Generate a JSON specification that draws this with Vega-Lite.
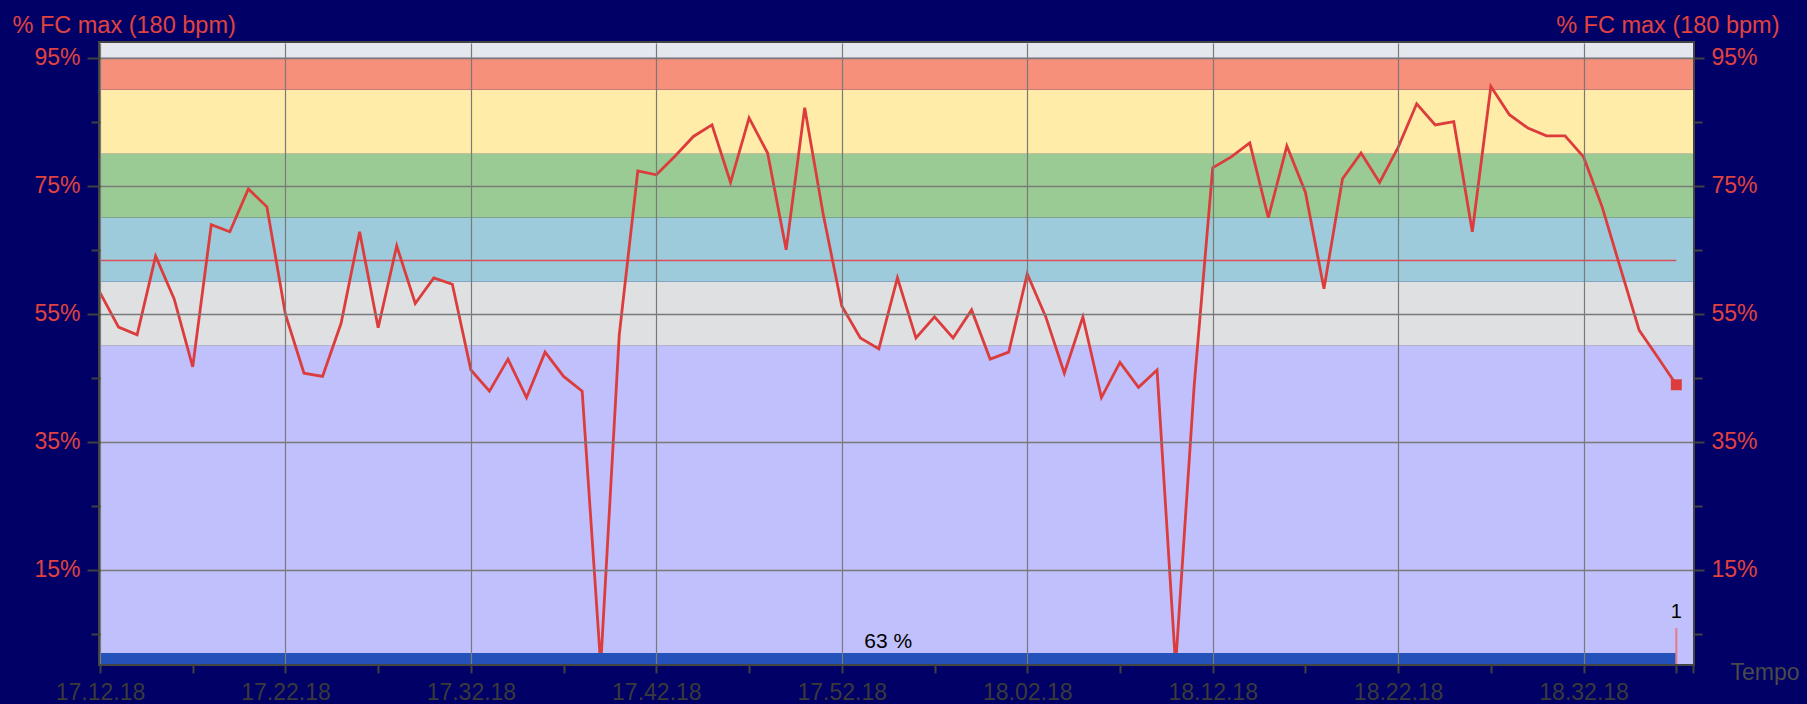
{
  "$schema": "https://vega.github.io/schema/vega-lite/v6.json",
  "width": 1593,
  "height": 621,
  "autosize": {"type": "none"},
  "padding": {"left": 100, "top": 43, "right": 114, "bottom": 40},
  "background": "#000066",
  "config": {
    "font": "Liberation Sans",
    "view": {"stroke": "#454545", "strokeWidth": 4}
  },
  "datasets": {
    "fc": [
      {"minuto": 0, "fc": 58.3}, {"minuto": 1, "fc": 52.9}, {"minuto": 2, "fc": 51.7}, {"minuto": 3, "fc": 64.0},
      {"minuto": 4, "fc": 57.3}, {"minuto": 5, "fc": 46.7}, {"minuto": 6, "fc": 68.9}, {"minuto": 7, "fc": 67.8},
      {"minuto": 8, "fc": 74.5}, {"minuto": 9, "fc": 71.7}, {"minuto": 10, "fc": 54.9}, {"minuto": 11, "fc": 45.7},
      {"minuto": 12, "fc": 45.2}, {"minuto": 13, "fc": 53.5}, {"minuto": 14, "fc": 67.8}, {"minuto": 15, "fc": 52.8},
      {"minuto": 16, "fc": 65.6}, {"minuto": 17, "fc": 56.6}, {"minuto": 18, "fc": 60.6}, {"minuto": 19, "fc": 59.6},
      {"minuto": 20, "fc": 46.2}, {"minuto": 21, "fc": 42.9}, {"minuto": 22, "fc": 47.9}, {"minuto": 23, "fc": 41.9},
      {"minuto": 24, "fc": 49.0}, {"minuto": 25, "fc": 45.2}, {"minuto": 26, "fc": 42.9}, {"minuto": 27, "fc": 0},
      {"minuto": 28, "fc": 51.7}, {"minuto": 29, "fc": 77.3}, {"minuto": 30, "fc": 76.7}, {"minuto": 31, "fc": 79.6},
      {"minuto": 32, "fc": 82.7}, {"minuto": 33, "fc": 84.5}, {"minuto": 34, "fc": 75.5}, {"minuto": 35, "fc": 85.6},
      {"minuto": 36, "fc": 80.1}, {"minuto": 37, "fc": 65.0}, {"minuto": 38, "fc": 87.2}, {"minuto": 39, "fc": 70.5},
      {"minuto": 40, "fc": 56.2}, {"minuto": 41, "fc": 51.2}, {"minuto": 42, "fc": 49.5}, {"minuto": 43, "fc": 60.6},
      {"minuto": 44, "fc": 51.2}, {"minuto": 45, "fc": 54.5}, {"minuto": 46, "fc": 51.2}, {"minuto": 47, "fc": 55.6},
      {"minuto": 48, "fc": 47.9}, {"minuto": 49, "fc": 49.0}, {"minuto": 50, "fc": 61.2}, {"minuto": 51, "fc": 54.5},
      {"minuto": 52, "fc": 45.7}, {"minuto": 53, "fc": 54.5}, {"minuto": 54, "fc": 41.9}, {"minuto": 55, "fc": 47.4},
      {"minuto": 56, "fc": 43.5}, {"minuto": 57, "fc": 46.2}, {"minuto": 58, "fc": 0}, {"minuto": 59, "fc": 43.7},
      {"minuto": 60, "fc": 77.8}, {"minuto": 61, "fc": 79.5}, {"minuto": 62, "fc": 81.7}, {"minuto": 63, "fc": 70.0},
      {"minuto": 64, "fc": 81.2}, {"minuto": 65, "fc": 74.0}, {"minuto": 66, "fc": 58.9}, {"minuto": 67, "fc": 76.1},
      {"minuto": 68, "fc": 80.1}, {"minuto": 69, "fc": 75.5}, {"minuto": 70, "fc": 81.0}, {"minuto": 71, "fc": 87.8},
      {"minuto": 72, "fc": 84.5}, {"minuto": 73, "fc": 85.0}, {"minuto": 74, "fc": 67.8}, {"minuto": 75, "fc": 90.5},
      {"minuto": 76, "fc": 86.1}, {"minuto": 77, "fc": 84.0}, {"minuto": 78, "fc": 82.8}, {"minuto": 79, "fc": 82.8},
      {"minuto": 80, "fc": 79.5}, {"minuto": 81, "fc": 71.7}, {"minuto": 82, "fc": 62.0}, {"minuto": 83, "fc": 52.4},
      {"minuto": 84, "fc": 48.2}, {"minuto": 85, "fc": 43.9}
    ],
    "zonas": [
      {"zona": "Z0", "lo": 0, "hi": 50},
      {"zona": "Z1", "lo": 50, "hi": 60},
      {"zona": "Z2", "lo": 60, "hi": 70},
      {"zona": "Z3", "lo": 70, "hi": 80},
      {"zona": "Z4", "lo": 80, "hi": 90},
      {"zona": "Z5", "lo": 90, "hi": 95},
      {"zona": "Z6", "lo": 95, "hi": 100}
    ],
    "voltas": [{"minuto": 85, "volta": "1"}]
  },
  "layer": [
    {
      "layer": [
        {
          "data": {"name": "zonas"},
          "mark": {"type": "rect", "clip": true},
          "encoding": {
            "x": {"datum": 0, "type": "quantitative", "scale": {"domain": [0, 85.9], "nice": false, "zero": false},
              "axis": {
                "values": [0, 5, 10, 15, 20, 25, 30, 35, 40, 45, 50, 55, 60, 65, 70, 75, 80, 85, 85.9],
                "labelExpr": "datum.value % 10 == 0 ? floor((1032 + datum.value) / 60) + '.' + ((1032 + datum.value) % 60 < 10 ? '0' : '') + ((1032 + datum.value) % 60) + '.18' : ''",
                "labelColor": "#3a3a3a", "labelFontSize": 23, "labelPadding": 8, "labelFlush": false, "labelOverlap": false,
                "tickColor": "#404040", "tickWidth": 2, "tickSize": 9,
                "domain": false,
                "grid": true, "gridColor": "#7a7a7a", "gridWidth": 1.2,
                "gridOpacity": {"condition": {"test": "datum.value % 10 == 0", "value": 1}, "value": 0},
                "title": "Tempo", "titleX": 1630, "titleY": 15, "titleAlign": "left", "titleBaseline": "alphabetic",
                "titleAngle": 0, "titleColor": "#4a4a4a", "titleFontSize": 23, "titleFontWeight": "normal",
                "zindex": 1
              }
            },
            "x2": {"datum": 85.9},
            "y": {"field": "lo", "type": "quantitative", "scale": {"domain": [0.27, 97.3], "nice": false, "zero": false},
              "axis": {
                "orient": "left",
                "values": [5, 15, 25, 35, 45, 55, 65, 75, 85, 95],
                "labelExpr": "datum.value % 20 == 15 ? datum.value + '%' : ''",
                "labelColor": "#E0433F", "labelFontSize": 23, "labelPadding": 7, "labelOverlap": false,
                "tickColor": "#404040", "tickWidth": 2,
                "tickSize": {"condition": {"test": "datum.value % 20 == 15", "value": 13}, "value": 9},
                "domain": false,
                "grid": true, "gridColor": "#7a7a7a", "gridWidth": 1.5,
                "gridOpacity": {"condition": {"test": "datum.value % 20 == 15", "value": 1}, "value": 0},
                "title": "% FC max (180 bpm)", "titleAngle": 0, "titleX": -88, "titleY": -11,
                "titleAlign": "left", "titleBaseline": "alphabetic", "titleColor": "#E0433F",
                "titleFontSize": 23.5, "titleFontWeight": "normal",
                "zindex": 1
              }
            },
            "y2": {"field": "hi"},
            "color": {"field": "zona", "type": "nominal", "legend": null,
              "scale": {"domain": ["Z0", "Z1", "Z2", "Z3", "Z4", "Z5", "Z6"],
                "range": ["#C0C0FC", "#DFE0E2", "#9ECBDB", "#9BCB94", "#FFECA8", "#F6907A", "#E4E8EE"]}}
          }
        },
        {
          "data": {"name": "fc"},
          "transform": [
            {"filter": "datum.fc > 0"},
            {"aggregate": [{"op": "mean", "field": "fc", "as": "media"}, {"op": "min", "field": "minuto", "as": "ini"}, {"op": "max", "field": "minuto", "as": "fim"}]}
          ],
          "mark": {"type": "rule", "color": "#D9505A", "strokeWidth": 1.5},
          "encoding": {
            "x": {"field": "ini", "type": "quantitative"},
            "x2": {"field": "fim"},
            "y": {"field": "media", "type": "quantitative"}
          }
        },
        {
          "data": {"name": "fc"},
          "mark": {"type": "line", "color": "#DD3C3C", "strokeWidth": 2.8, "clip": true},
          "encoding": {
            "x": {"field": "minuto", "type": "quantitative"},
            "y": {"field": "fc", "type": "quantitative"}
          }
        },
        {
          "data": {"name": "fc"},
          "transform": [
            {"aggregate": [{"op": "min", "field": "minuto", "as": "ini"}, {"op": "max", "field": "minuto", "as": "fim"}]}
          ],
          "mark": {"type": "rect", "color": "#2452BB", "clip": true},
          "encoding": {
            "x": {"field": "ini", "type": "quantitative"},
            "x2": {"field": "fim"},
            "y": {"datum": 0},
            "y2": {"datum": 2.0}
          }
        },
        {
          "data": {"name": "voltas"},
          "mark": {"type": "rule", "color": "#E57A8A", "strokeWidth": 2},
          "encoding": {
            "x": {"field": "minuto", "type": "quantitative"},
            "y": {"datum": 0.27},
            "y2": {"datum": 5.9}
          }
        },
        {
          "data": {"name": "voltas"},
          "mark": {"type": "text", "color": "#000000", "fontSize": 20, "baseline": "alphabetic", "dy": -10},
          "encoding": {
            "x": {"field": "minuto", "type": "quantitative"},
            "y": {"datum": 5.9},
            "text": {"field": "volta"}
          }
        },
        {
          "data": {"name": "fc"},
          "mark": {"type": "text", "text": "63 %", "color": "#000000", "fontSize": 21, "baseline": "alphabetic", "dy": -5},
          "encoding": {
            "x": {"datum": 42.5},
            "y": {"datum": 2.0}
          },
          "transform": [{"filter": "datum.minuto == 0"}]
        },
        {
          "data": {"name": "fc"},
          "transform": [{"filter": "datum.minuto == 85"}],
          "mark": {"type": "point", "shape": "square", "filled": true, "size": 120, "color": "#DD3C3C", "opacity": 1},
          "encoding": {
            "x": {"field": "minuto", "type": "quantitative"},
            "y": {"field": "fc", "type": "quantitative"}
          }
        }
      ]
    },
    {
      "data": {"name": "fc"},
      "mark": {"type": "point", "opacity": 0},
      "encoding": {
        "y": {"field": "fc", "type": "quantitative", "scale": {"domain": [0.27, 97.3], "nice": false, "zero": false},
          "axis": {
            "orient": "right",
            "values": [5, 15, 25, 35, 45, 55, 65, 75, 85, 95],
            "labelExpr": "datum.value % 20 == 15 ? datum.value + '%' : ''",
            "labelColor": "#E0433F", "labelFontSize": 23, "labelPadding": 7, "labelOverlap": false,
            "tickColor": "#404040", "tickWidth": 2,
            "tickSize": {"condition": {"test": "datum.value % 20 == 15", "value": 11}, "value": 9},
            "domain": false, "grid": false,
            "title": "% FC max (180 bpm)", "titleAngle": 0, "titleX": 86, "titleY": -11,
            "titleAlign": "right", "titleBaseline": "alphabetic", "titleColor": "#E0433F",
            "titleFontSize": 23.5, "titleFontWeight": "normal",
            "zindex": 1
          }
        }
      }
    }
  ],
  "resolve": {"scale": {"y": "independent"}}
}
